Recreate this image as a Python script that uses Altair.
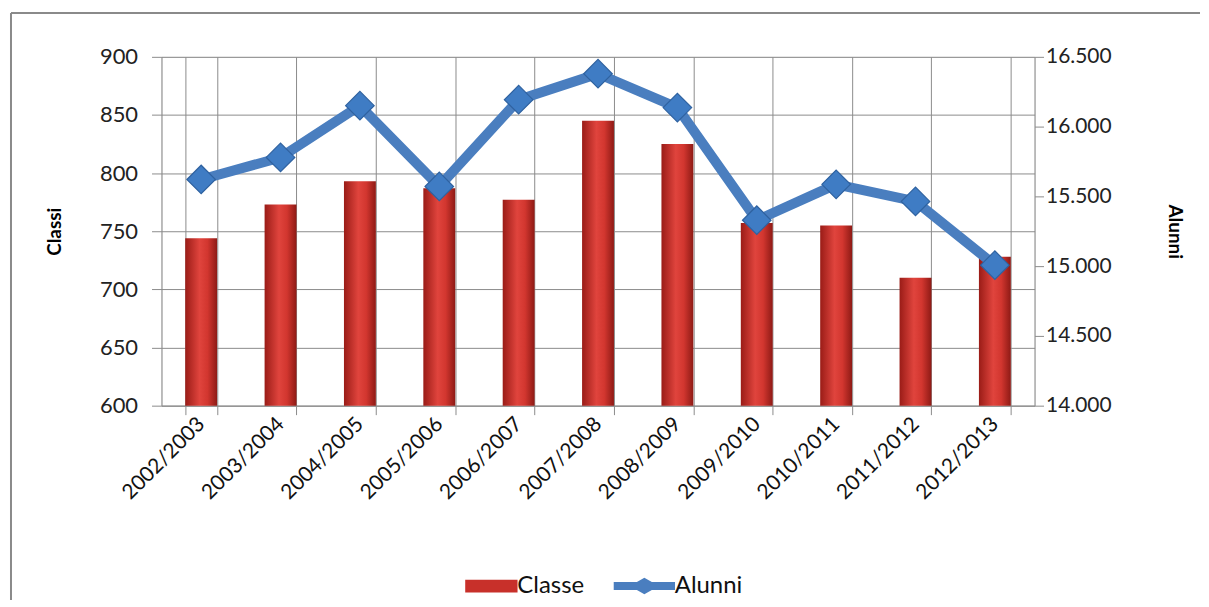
import altair as alt
import pandas as pd

anni = ["2002/2003", "2003/2004", "2004/2005", "2005/2006", "2006/2007", "2007/2008",
        "2008/2009", "2009/2010", "2010/2011", "2011/2012", "2012/2013"]
classi = [744, 773, 793, 787, 777, 845, 825, 757, 755, 710, 728]
alunni = [15621, 15779, 16150, 15571, 16193, 16379, 16136, 15329, 15586, 15464, 15007]
serie = ["Classe", "Alunni"]

df = pd.DataFrame({"anno": anni, "classi": classi, "alunni": alunni})
leg = pd.DataFrame({"serie": serie})

FONT = "Lato"
FS = 22
RED = "#c8302a"
BLUE = "#4a7ebf"
GRID = "#8c8c8c"

x = alt.X("anno:N", sort=anni, title=None,
          scale=alt.Scale(paddingInner=0.6, paddingOuter=0.3),
          axis=alt.Axis(tickBand="extent", labelAngle=-45, labelFontSize=FS - 1,
                        labelAlign="right", labelBaseline="middle",
                        labelFont=FONT, labelColor="#111", grid=True, labelLimit=300,
                        gridColor=GRID, tickColor=GRID, tickSize=9,
                        domainColor=GRID, labelPadding=6))

bar_grad = alt.Gradient(
    gradient="linear", x1=0, x2=1, y1=0, y2=0,
    stops=[alt.GradientStop(color="#9a1c17", offset=0),
           alt.GradientStop(color="#e0443d", offset=0.45),
           alt.GradientStop(color="#d2362f", offset=0.7),
           alt.GradientStop(color="#8e1a15", offset=1)])

bars = alt.Chart(df).mark_bar(fill=bar_grad, size=32).encode(
    x=x,
    y=alt.Y("classi:Q", title="Classi",
            scale=alt.Scale(domain=[600, 900], nice=False, zero=False),
            axis=alt.Axis(values=[600, 650, 700, 750, 800, 850, 900], grid=True,
                          gridColor=GRID, domainColor=GRID, tickColor=GRID,
                          tickSize=10, labelFontSize=FS, labelFont=FONT, labelColor="#222",
                          labelPadding=14, titleFont=FONT, titleFontSize=19,
                          titleFontWeight="bold", titlePadding=35, titleColor="#000")),
    y2=alt.datum(600),
)

right_axis = alt.Axis(orient="right", values=[14000, 14500, 15000, 15500, 16000, 16500],
                      grid=False, domainColor=GRID, tickColor=GRID, tickSize=9,
                      labelFontSize=FS - 1, labelFont=FONT, labelColor="#222", labelPadding=2,
                      labelExpr="replace(format(datum.value, ',.0f'), ',', '.')",
                      titleFont=FONT, titleFontSize=19, titleFontWeight="bold",
                      titlePadding=54, titleColor="#000")
yscale = alt.Scale(domain=[14000, 16500], nice=False, zero=False)
yr = alt.Y("alunni:Q", title="Alunni", scale=yscale, axis=right_axis)

line = alt.Chart(df).mark_line(color=BLUE, strokeWidth=10, strokeJoin="round").encode(x=x, y=yr)
pts = alt.Chart(df).mark_point(shape="diamond", filled=True, size=820, opacity=1,
                               fill="#3f7cc4", stroke="#2f62a0", strokeWidth=1.2).encode(
    x=x, y=yr)

right = alt.layer(line, pts)

legend_layer = alt.Chart(leg).mark_point(filled=True, opacity=1).encode(
    color=alt.Color("serie:N", scale=alt.Scale(domain=serie, range=[RED, BLUE]),
                    legend=alt.Legend(title=None, orient="none", direction="horizontal",
                                      legendX=301, legendY=515, labelFont=FONT,
                                      labelFontSize=24, labelColor="#111",
                                      symbolSize=900, symbolOffset=14, labelOffset=10,
                                      columnPadding=28)),
    shape=alt.Shape("serie:N", scale=alt.Scale(
        domain=serie,
        range=["M-1.75,-0.43H1.75V0.43H-1.75Z",
               "M-2.35,-0.27H-0.8L-0.3,-0.55L0.2,-0.27H1.75V0.27H0.2L-0.3,0.55L-0.8,0.27H-2.35Z"]),
        legend=None),
).transform_filter("datum.serie == 'none'")

# chart frame (decoration)
frame_df = pd.DataFrame({"k": [0]})
frame_top = alt.Chart(frame_df).mark_rule(color="#8a8a8a", strokeWidth=2).encode(
    x=alt.value(-151), x2=alt.value(1042), y=alt.value(-44))
frame_left = alt.Chart(frame_df).mark_rule(color="#8a8a8a", strokeWidth=2).encode(
    x=alt.value(-151), y=alt.value(-44), y2=alt.value(545))

chart = alt.layer(frame_top, frame_left, bars, right, legend_layer).resolve_scale(
    y="independent").properties(
    width=876, height=350,
    padding={"left": 2, "top": 3, "right": 0, "bottom": 0},
).configure_view(stroke=None).configure(background="white")

chart.save("out.html", embed_options={"renderer": "svg", "actions": False})
